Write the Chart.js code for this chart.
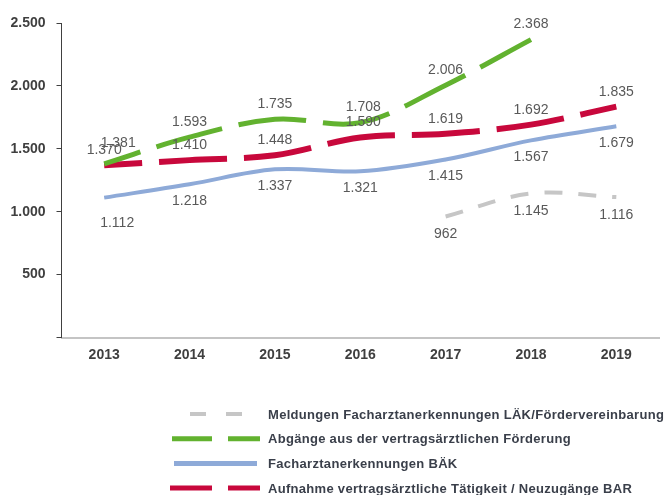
<!DOCTYPE html>
<html>
<head>
<meta charset="utf-8">
<script src="https://cdn.jsdelivr.net/npm/chart.js@4/dist/chart.umd.min.js"></script>
<style>
  html, body { margin: 0; padding: 0; background: #ffffff; }
  #wrap { width: 665px; height: 495px; position: relative; }
</style>
</head>
<body>
<div id="wrap"><canvas id="c" width="665" height="495"></canvas></div>
<script>
// ---- Data ----
const years = ['2013', '2014', '2015', '2016', '2017', '2018', '2019'];
const meldungenLAEK = [null, null, null, null, 962, 1145, 1116];
const abgaengeFoerderung = [1381, 1593, 1735, 1708, 2006, 2368, null];
const facharztBAEK = [1112, 1218, 1337, 1321, 1415, 1567, 1679];
const aufnahmeBAR = [1370, 1410, 1448, 1590, 1619, 1692, 1835];
const yTicks = [0, 500, 1000, 1500, 2000, 2500];
const seriesNames = [
  'Meldungen Facharztanerkennungen LÄK/Fördervereinbarung',
  'Abgänge aus der vertragsärztlichen Förderung',
  'Facharztanerkennungen BÄK',
  'Aufnahme vertragsärztliche Tätigkeit / Neuzugänge BAR'
];

const FONT = "'Liberation Sans', Arial, sans-serif";
function fmt(v) { return String(v).replace(/\B(?=(\d{3})+(?!\d))/g, '.'); }

// data labels drawn at the library-computed point positions
const dataLabels = {
  id: 'dataLabels',
  afterDatasetsDraw(chart, args, opts) {
    const ctx = chart.ctx;
    ctx.save();
    ctx.font = '14px ' + FONT;
    ctx.fillStyle = '#595959';
    ctx.textAlign = 'center';
    ctx.textBaseline = 'middle';
    chart.data.datasets.forEach((ds, di) => {
      const meta = chart.getDatasetMeta(di);
      const off = opts.offsets[di];
      meta.data.forEach((pt, i) => {
        const v = ds.data[i];
        if (v === null || v === undefined) return;
        const n = (off.nudge && off.nudge[i]) || [0, 0];
        ctx.fillText(fmt(v), pt.x + off.dx + n[0], pt.y + off.dy + n[1]);
      });
    });
    ctx.restore();
  }
};

// legend drawn below the plot as a vertical list
const listLegend = {
  id: 'listLegend',
  afterDraw(chart, args, opts) {
    const ctx = chart.ctx;
    ctx.save();
    opts.rows.forEach((r, k) => {
      const ds = chart.data.datasets[r.ds];
      const y = opts.top + k * opts.step;
      ctx.beginPath();
      ctx.setLineDash(r.dash);
      ctx.lineDashOffset = 0;
      ctx.lineWidth = r.w;
      ctx.strokeStyle = ds.borderColor;
      ctx.lineCap = 'butt';
      ctx.moveTo(r.x0, y);
      ctx.lineTo(r.x1, y);
      ctx.stroke();
      ctx.setLineDash([]);
      ctx.font = 'bold 13px ' + FONT;
      if ('letterSpacing' in ctx) ctx.letterSpacing = '0.3px';
      ctx.fillStyle = '#3a3f4a';
      ctx.textAlign = 'left';
      ctx.textBaseline = 'middle';
      ctx.fillText(ds.label, opts.textX, y + 1);
      if ('letterSpacing' in ctx) ctx.letterSpacing = '0px';
    });
    ctx.restore();
  }
};

const chart = new Chart(document.getElementById('c'), {
  type: 'line',
  data: {
    labels: years,
    datasets: [
      { label: seriesNames[0], data: meldungenLAEK, borderColor: '#c6c6c6', borderWidth: 4,
        borderDash: [18, 16], borderDashOffset: 0, tension: 0.35 },
      { label: seriesNames[1], data: abgaengeFoerderung, borderColor: '#62b22f', borderWidth: 5,
        borderDash: [68, 17], borderDashOffset: 30, tension: 0.35 },
      { label: seriesNames[2], data: facharztBAEK, borderColor: '#8eaad8', borderWidth: 4,
        tension: 0.35 },
      { label: seriesNames[3], data: aufnahmeBAR, borderColor: '#c8083c', borderWidth: 6,
        borderDash: [68, 17], borderDashOffset: 30, tension: 0.35 }
    ]
  },
  options: {
    responsive: false,
    animation: false,
    devicePixelRatio: 1,
    layout: { padding: { left: 0, right: 6, top: 23, bottom: 0 } },
    elements: {
      point: { radius: 0, hoverRadius: 0 },
      line: { borderCapStyle: 'butt', fill: false }
    },
    scales: {
      x: {
        offset: true,
        afterFit(s) { s.height = 157.5; },
        grid: { display: false, drawTicks: false },
        border: { display: true, color: '#c4c4c4', width: 2 },
        ticks: { color: '#3f3f3f', font: { family: FONT, size: 14, weight: 'bold' }, padding: 9, maxRotation: 0 }
      },
      y: {
        min: 0, max: 2500,
        afterFit(s) { s.width = 61.5; },
        afterBuildTicks(s) { s.ticks = yTicks.map(v => ({ value: v })); },
        grid: { display: true, drawOnChartArea: false, drawTicks: true, tickLength: 5, color: '#404040', lineWidth: 1 },
        border: { display: true, color: '#404040', width: 1 },
        ticks: {
          color: '#3f3f3f', font: { family: FONT, size: 14, weight: 'bold' }, padding: 11,
          callback: (v) => v === 0 ? '' : fmt(v)
        }
      }
    },
    plugins: {
      legend: { display: false },
      tooltip: { enabled: false },
      dataLabels: {
        offsets: [
          { dx: 0, dy: 18 },
          { dx: 0, dy: -15, nudge: { 0: [14, -6], 3: [3, 0] } },
          { dx: 0, dy: 17, nudge: { 0: [13, 9] } },
          { dx: 0, dy: -15, nudge: { 3: [3, 0] } }
        ]
      },
      listLegend: {
        top: 414, step: 24.7, textX: 268,
        rows: [
          { ds: 0, x0: 190, x1: 242, dash: [16, 20], w: 4 },
          { ds: 1, x0: 172, x1: 260, dash: [40, 16], w: 5 },
          { ds: 2, x0: 174, x1: 257, dash: [], w: 5 },
          { ds: 3, x0: 170, x1: 260, dash: [42, 16], w: 5 }
        ]
      }
    }
  },
  plugins: [dataLabels, listLegend]
});
</script>
</body>
</html>
